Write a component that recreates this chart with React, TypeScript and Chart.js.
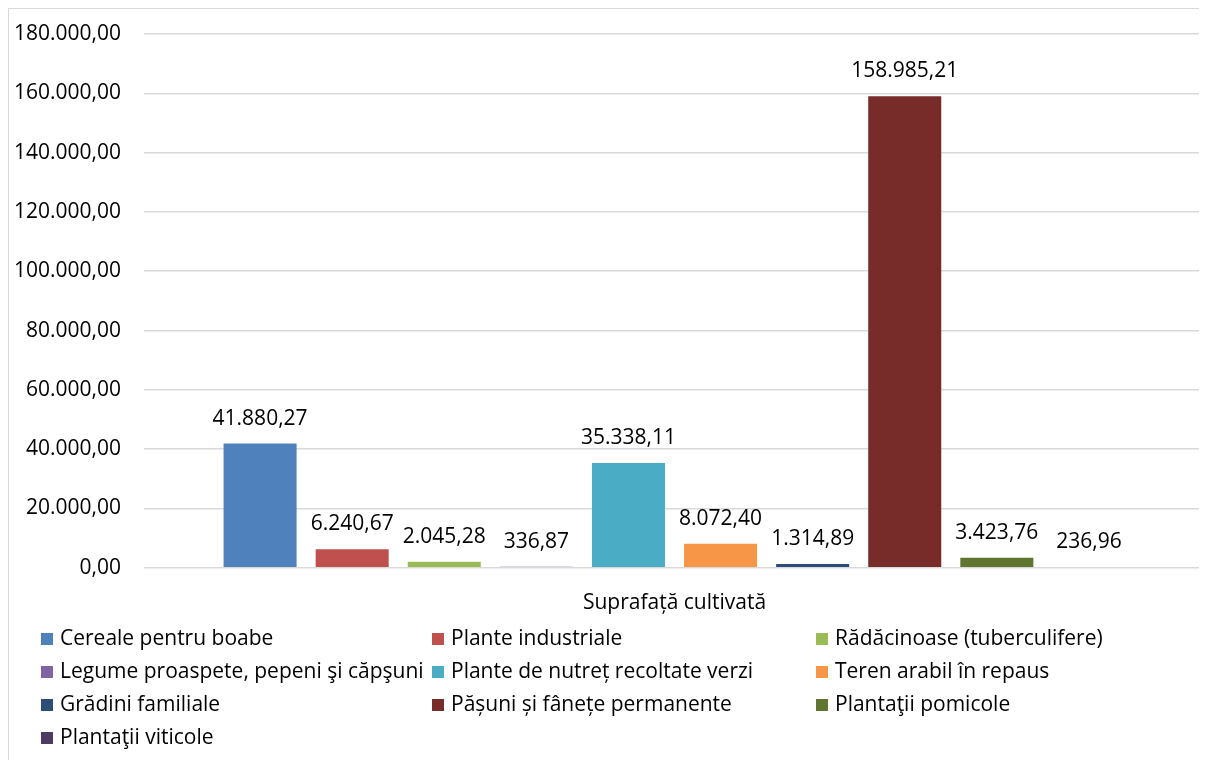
import React, { useEffect, useRef } from "react";
import { Chart, registerables } from "chart.js";

Chart.register(...registerables);

const categories = ["Suprafață cultivată"];
const seriesNames = [
  "Cereale pentru boabe",
  "Plante industriale",
  "Rădăcinoase (tuberculifere)",
  "Legume proaspete, pepeni şi căpşuni",
  "Plante de nutreț recoltate verzi",
  "Teren arabil în repaus",
  "Grădini familiale",
  "Pășuni și fânețe permanente",
  "Plantaţii pomicole",
  "Plantaţii viticole",
];
const seriesValues = [41880.27, 6240.67, 2045.28, 336.87, 35338.11, 8072.4, 1314.89, 158985.21, 3423.76, 236.96];
const seriesColors = [
  "#4F81BD",
  "#C0504D",
  "#9BBB59",
  "#8064A2",
  "#4BACC6",
  "#F79646",
  "#2C4D75",
  "#772C2A",
  "#5F7530",
  "#4D3B62",
];
const yMin = 0;
const yMax = 180000;
const yStep = 20000;

const FONT = "'Open Sans', 'Noto Sans', sans-serif";
const FS = 21;
const X_PAD = 23;
const Y_PAD = 23;

function fmtRo(v: number): string {
  const [i, d] = Math.abs(v).toFixed(2).split(".");
  const withDots = i.replace(/\B(?=(\d{3})+(?!\d))/g, ".");
  return (v < 0 ? "-" : "") + withDots + "," + d;
}

const dataLabelPlugin = {
  id: "dataLabels",
  afterDatasetsDraw(chart: any) {
    const ctx = chart.ctx;
    ctx.save();
    ctx.font = `${FS}px ${FONT}`;
    ctx.fillStyle = "#000000";
    ctx.textAlign = "center";
    ctx.textBaseline = "middle";
    chart.data.datasets.forEach((ds: any, i: number) => {
      const meta = chart.getDatasetMeta(i);
      meta.data.forEach((bar: any, j: number) => {
        ctx.fillText(fmtRo(ds.data[j]), bar.x, bar.y - 25);
      });
    });
    ctx.restore();
  },
};

const gridLegendPlugin = {
  id: "gridLegend",
  afterDraw(chart: any) {
    const ctx = chart.ctx;
    const cols = 3;
    const colX = [32, 423, 807];
    const rowY0 = 630;
    const rowH = 33;
    const box = 12;
    ctx.save();
    ctx.font = `${FS}px ${FONT}`;
    ctx.textBaseline = "middle";
    ctx.textAlign = "left";
    chart.data.datasets.forEach((ds: any, i: number) => {
      const c = i % cols;
      const r = Math.floor(i / cols);
      const x = colX[c];
      const y = rowY0 + r * rowH;
      ctx.fillStyle = ds.backgroundColor;
      ctx.fillRect(x, y - box / 2, box, box);
      ctx.fillStyle = "#000000";
      ctx.fillText(ds.label, x + box + 7, y);
    });
    ctx.restore();
  },
};

export default function App() {
  const ref = useRef<HTMLCanvasElement>(null);
  useEffect(() => {
    document.body.style.overflow = "hidden";
    let chart: Chart | null = null;
    let cancelled = false;
    const build = () => {
      if (cancelled || !ref.current) return;
      chart = new Chart(ref.current, {
        type: "bar",
        data: {
          labels: categories,
          datasets: seriesNames.map((name, i) => ({
            label: name,
            data: [seriesValues[i]],
            backgroundColor: seriesColors[i],
            borderWidth: 0,
            categoryPercentage: 0.868,
            barPercentage: 0.793,
          })),
        },
        options: {
          animation: false,
          responsive: false,
          maintainAspectRatio: false,
          layout: { autoPadding: false, padding: { left: 5, right: 2, top: 25, bottom: 144 } },
          plugins: {
            legend: { display: false },
            tooltip: { enabled: false },
          },
          scales: {
            x: {
              grid: { display: false, drawTicks: false },
              border: { display: false },
              ticks: { color: "#000000", font: { family: FONT, size: FS }, padding: X_PAD },
              afterFit: (s: any) => {
                s.paddingLeft = 0;
                s.paddingRight = 0;
                s.height -= X_PAD;
              },
            },
            y: {
              min: yMin,
              max: yMax,
              grid: { color: "#D9D9D9", lineWidth: 1.5, drawTicks: false },
              border: { display: false },
              ticks: {
                stepSize: yStep,
                padding: Y_PAD,
                color: "#000000",
                font: { family: FONT, size: FS },
                callback: (v: any) => fmtRo(Number(v)),
              },
              afterFit: (s: any) => {
                s.paddingTop = 0;
                s.paddingBottom = 0;
                s.width -= Y_PAD;
              },
            },
          },
        },
        plugins: [dataLabelPlugin, gridLegendPlugin],
      });
    };
    const fontsApi: any = (document as any).fonts;
    if (fontsApi && fontsApi.load) {
      fontsApi
        .load(`${FS}px 'Open Sans'`)
        .then(build, build);
    } else {
      build();
    }
    return () => {
      cancelled = true;
      if (chart) chart.destroy();
    };
  }, []);
  return (
    <div
      style={{
        width: 1199,
        height: 752,
        boxSizing: "border-box",
        borderTop: "1px solid #D9D9D9",
        borderLeft: "1px solid #D9D9D9",
        background: "#fff",
      }}
    >
      <canvas ref={ref} width={1198} height={751} style={{ display: "block" }} />
    </div>
  );
}
